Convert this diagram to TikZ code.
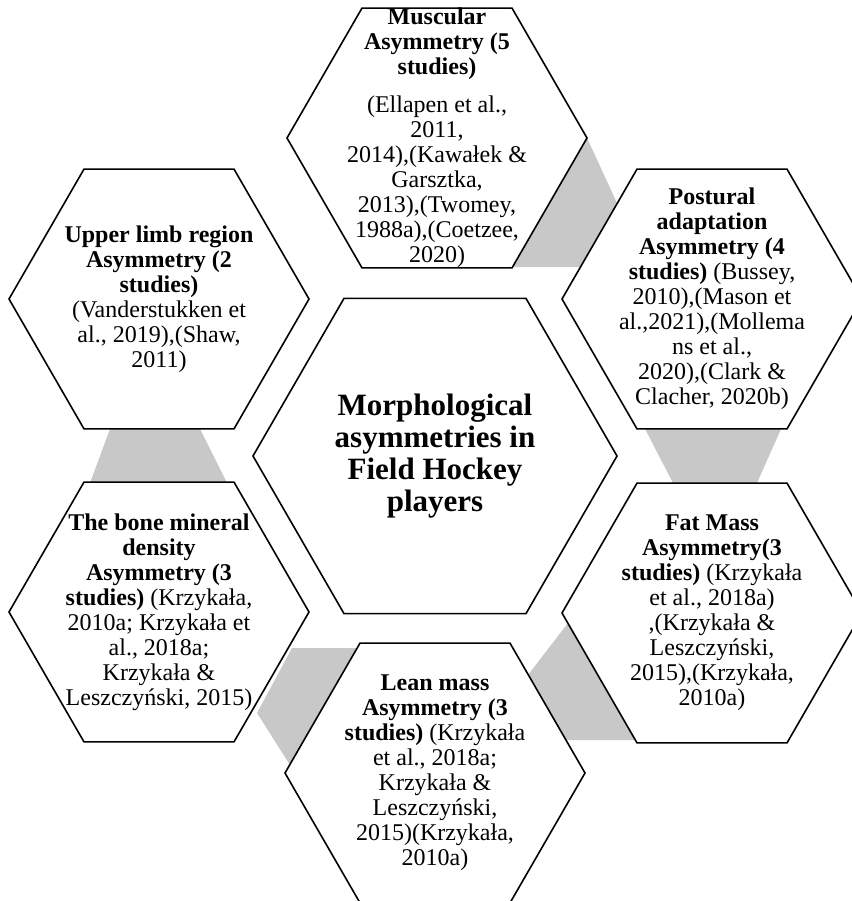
\documentclass[tikz,border=0pt]{standalone}
\usepackage{fontspec}
\setmainfont{Liberation Serif}
\usetikzlibrary{shapes.geometric}
\definecolor{bandgray}{RGB}{200,200,200}
\tikzstyle{hexa}    = [draw=black, fill=white, line width=1.6pt, regular polygon, regular polygon sides=6, minimum size=300pt, inner sep=0pt]
\tikzstyle{hexbig}  = [hexa, minimum size=364pt]
\tikzstyle{hextext} = [align=center, inner sep=0pt, font=\fontsize{24}{25}\selectfont]
\tikzstyle{band}    = [fill=bandgray, draw=none]

\begin{document}
\begin{tikzpicture}[x=1pt, y=-1pt]
      \useasboundingbox (0,0) rectangle (851,901);
      % Grey bands behind the ring
      \fill[band] (587,138) -- (512,267) -- (580,267) -- (617,203) -- cycle;
      \fill[band] (645,429) -- (781,429) -- (757,483) -- (673,483) -- cycle;
      \fill[band] (568,623) -- (528,675) -- (566,740) -- (635,740) -- cycle;
      \fill[band] (292,648) -- (357,648) -- (290,765) -- (257,713) -- cycle;
      \fill[band] (110,429) -- (200,429) -- (227,483) -- (90,483) -- cycle;
      % Outer hexagons
      \node[hexa] (muscular) at (437,138) {};
      \node[hexa] (upperlimb) at (159,299) {};
      \node[hexa] (postural) at (712,299) {};
      \node[hexa] (bone) at (159,612) {};
      \node[hexa] (fatmass) at (712,613) {};
      \node[hexa] (leanmass) at (435,773) {};
      % Centre hexagon
      \node[hexbig] (morph) at (435,456) {};
      % Texts
      \node[hextext] (muscularText) at (muscular) {\textbf{Muscular}\\ \textbf{Asymmetry (5}\\ \textbf{studies)}\\[13pt]
        (Ellapen et al.,\\ 2011,\\ 2014),(Kawałek \&\\ Garsztka,\\ 2013),(Twomey,\\ 1988a),(Coetzee,\\ 2020)};
      \node[hextext] (upperlimbText) at (upperlimb) {\textbf{Upper limb region}\\ \textbf{Asymmetry (2}\\ \textbf{studies)}\\
        (Vanderstukken et\\ al., 2019),(Shaw,\\ 2011)};
      \node[hextext] (posturalText) at (postural) {\textbf{Postural}\\ \textbf{adaptation}\\ \textbf{Asymmetry (4}\\ \textbf{studies)} (Bussey,\\
        2010),(Mason et\\ al.,2021),(Mollema\\ ns et al.,\\ 2020),(Clark \&\\ Clacher, 2020b)};
      \node[hextext] (boneText) at (bone) {\textbf{The bone mineral}\\ \textbf{density}\\ \textbf{Asymmetry (3}\\ \textbf{studies)} (Krzykała,\\
        2010a; Krzykała et\\ al., 2018a;\\ Krzykała \&\\ Leszczyński, 2015)};
      \node[hextext] (fatmassText) at (fatmass) {\textbf{Fat Mass}\\ \textbf{Asymmetry(3}\\ \textbf{studies)} (Krzykała\\
        et al., 2018a)\\ ,(Krzykała \&\\ Leszczyński,\\ 2015),(Krzykała,\\ 2010a)};
      \node[hextext] (leanmassText) at (leanmass) {\textbf{Lean mass}\\ \textbf{Asymmetry (3}\\ \textbf{studies)} (Krzykała\\
        et al., 2018a;\\ Krzykała \&\\ Leszczyński,\\ 2015)(Krzykała,\\ 2010a)};
      \node[hextext, font=\fontsize{31}{32}\selectfont\bfseries] (morphText) at (morph) {Morphological\\ asymmetries in\\ Field Hockey\\ players};
\end{tikzpicture}
\end{document}
